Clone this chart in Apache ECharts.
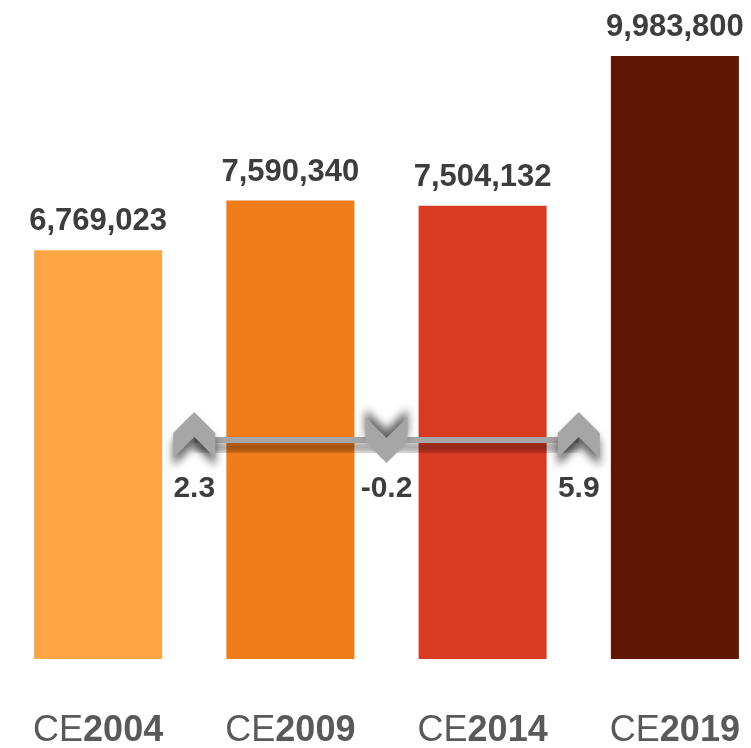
<!DOCTYPE html>
<html>
<head>
<meta charset="utf-8">
<script src="https://cdn.jsdelivr.net/npm/echarts@6/dist/echarts.min.js"></script>
<style>html,body{margin:0;padding:0;background:#fff;}#c{width:751px;height:748px;}</style>
</head>
<body>
<div id="c"></div>
<script>
var categories = ['2004', '2009', '2014', '2019'];
var prefix = 'CE';
var values = [6769023, 7590340, 7504132, 9983800];
var growth = [2.3, -0.2, 5.9];
var barColors = ['#FCA542', '#F07C1A', '#D83A22', '#601805'];

var chart = echarts.init(document.getElementById('c'));
var upPath = 'path://M22 0 L44 21 L44 46 L22 25 L0 46 L0 21 Z';
var lineData = growth.map(function (g, i) {
  var down = g < 0;
  return {
    value: [i + 1, 0],
    symbolRotate: down ? 180 : 0,
    symbolOffset: down ? [0, 0] : [0, -5],
    itemStyle: { shadowOffsetY: down ? -8 : 8 },
    label: { offset: [0, down ? 49 : 54] }
  };
});

chart.setOption({
  animation: false,
  grid: [
    { left: 2, width: 769, top: 56, bottom: 89, containLabel: false, outerBoundsMode: 'none' },
    { left: 2, width: 769, top: 430, height: 20, containLabel: false, outerBoundsMode: 'none' }
  ],
  xAxis: [
    {
      type: 'category', gridIndex: 0, data: categories,
      axisLine: { show: false }, axisTick: { show: false },
      axisLabel: {
        margin: 54,
        formatter: function (v) { return '{n|' + prefix + '}{b|' + v + '}'; },
        rich: {
          n: { fontFamily: 'Liberation Sans, Arial, sans-serif', fontSize: 36, color: '#595959' },
          b: { fontFamily: 'Liberation Sans, Arial, sans-serif', fontSize: 36, fontWeight: 'bold', color: '#595959' }
        }
      }
    },
    { type: 'value', gridIndex: 1, min: 0, max: 4, show: false }
  ],
  yAxis: [
    { type: 'value', gridIndex: 0, min: 0, max: Math.max.apply(null, values), show: false },
    { type: 'value', gridIndex: 1, min: -1, max: 1, show: false }
  ],
  series: [
    {
      type: 'bar', xAxisIndex: 0, yAxisIndex: 0,
      barWidth: '66.6%',
      data: values.map(function (v, i) { return { value: v, itemStyle: { color: barColors[i] } }; }),
      label: {
        show: true, position: 'top', distance: 13,
        fontFamily: 'Liberation Sans, Arial, sans-serif', fontSize: 31, fontWeight: 'bold', color: '#3d3d3d',
        formatter: function (p) { return p.value.toLocaleString('en-US'); }
      }
    },
    {
      type: 'line', xAxisIndex: 1, yAxisIndex: 1,
      data: lineData,
      symbol: upPath, symbolSize: [44, 46], symbolKeepAspect: true,
      lineStyle: { color: '#A6A6A6', width: 6, shadowColor: 'rgba(0,0,0,0.6)', shadowBlur: 8, shadowOffsetY: 7 },
      itemStyle: { color: '#A6A6A6', shadowColor: 'rgba(0,0,0,0.6)', shadowBlur: 8 },
      label: {
        show: true, position: 'inside',
        fontFamily: 'Liberation Sans, Arial, sans-serif', fontSize: 30, fontWeight: 'bold', color: '#3d3d3d',
        formatter: function (p) { return growth[p.dataIndex].toFixed(1); }
      },
      z: 5
    }
  ]
});
</script>
</body>
</html>
